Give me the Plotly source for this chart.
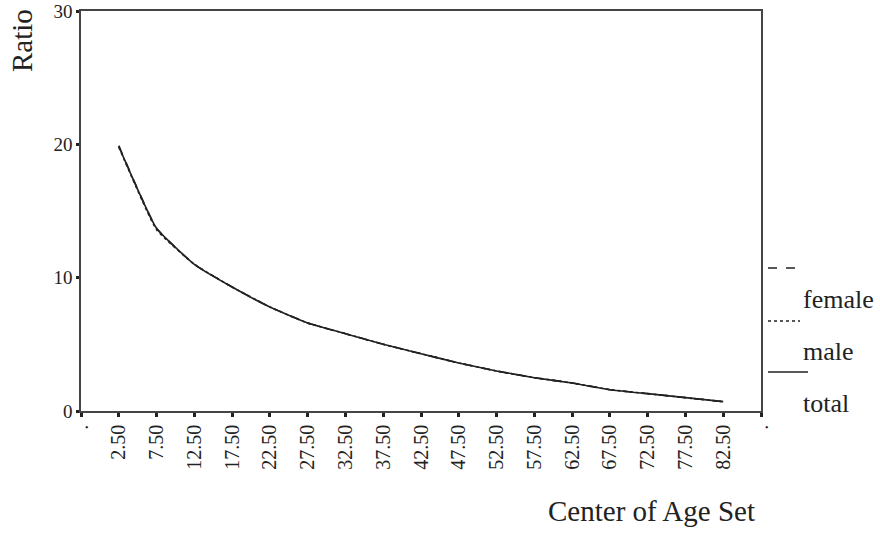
import plotly.graph_objects as go

# Age-set centers and ratio values per group
age_centers = [2.5, 7.5, 12.5, 17.5, 22.5, 27.5, 32.5, 37.5, 42.5,
               47.5, 52.5, 57.5, 62.5, 67.5, 72.5, 77.5, 82.5]
tick_labels = ["2.50", "7.50", "12.50", "17.50", "22.50", "27.50", "32.50", "37.50",
               "42.50", "47.50", "52.50", "57.50", "62.50", "67.50", "72.50", "77.50", "82.50"]
female = [19.9, 13.7, 11.0, 9.3, 7.8, 6.6, 5.8, 5.0, 4.3, 3.6, 3.0, 2.5, 2.1, 1.6, 1.3, 1.0, 0.7]
male = [19.8, 13.6, 11.0, 9.3, 7.8, 6.6, 5.8, 5.0, 4.3, 3.6, 3.0, 2.5, 2.1, 1.6, 1.3, 1.0, 0.7]
total = [19.85, 13.7, 11.0, 9.3, 7.8, 6.6, 5.8, 5.0, 4.3, 3.6, 3.0, 2.5, 2.1, 1.6, 1.3, 1.0, 0.7]

series = [("female", female, "dash"), ("male", male, "dot"), ("total", total, "solid")]

FONT = "Liberation Serif"
INK = "#222222"
AXIS = "#444444"

fig = go.Figure()
for name, vals, dash in series:
    fig.add_trace(go.Scatter(x=age_centers, y=vals, mode="lines", name=name,
                             line=dict(color=INK, width=1.6, dash=dash, shape="spline",
                                       smoothing=0.4),
                             showlegend=False))

# plot area in pixels: x 81..761, y 11..411
L, R, T, B = 81, 761, 11, 411
W, H = R - L, B - T

def px(x):
    return (x - L) / W

def py(y):
    return (B - y) / H

xticks = [-2.5] + age_centers + [87.5]
xtext = ["."] + tick_labels + ["."]

fig.update_layout(
    width=880, height=535,
    margin=dict(l=L, r=880 - R, t=T, b=535 - B, autoexpand=False),
    paper_bgcolor="white", plot_bgcolor="white",
    font=dict(family=FONT, color=INK),
    xaxis=dict(range=[-2.5, 87.5], tickmode="array", tickvals=xticks, ticktext=xtext,
               tickangle=-90, tickfont=dict(size=20, family=FONT, color=INK),
               ticks="outside", ticklen=4, tickwidth=3, tickcolor=INK,
               ticklabeloverflow="allow", automargin=False,
               showline=True, linecolor=AXIS, linewidth=1.5, mirror=True,
               showgrid=False, zeroline=False),
    yaxis=dict(range=[0, 30], tickmode="array", tickvals=[0, 10, 20, 30],
               ticktext=["0", "10", "20", "30"],
               tickfont=dict(size=19, family=FONT, color=INK),
               ticks="outside", ticklen=3, tickwidth=3, tickcolor=INK,
               ticklabeloverflow="allow", automargin=False,
               showline=True, linecolor=AXIS, linewidth=1.5, mirror=True,
               showgrid=False, zeroline=False),
)

# axis titles
fig.add_annotation(text="Ratio", xref="paper", yref="paper",
                   x=px(22), y=py(41), textangle=-90, showarrow=False,
                   font=dict(size=29, family=FONT, color=INK),
                   xanchor="center", yanchor="middle")
fig.add_annotation(text="Center of Age Set", xref="paper", yref="paper",
                   x=px(651), y=py(511), showarrow=False,
                   font=dict(size=29, family=FONT, color=INK),
                   xanchor="center", yanchor="middle")

# legend: line sample above each label
legend_items = [("female", "dash", 268, 300, 800),
                ("male", "dot", 321, 351, 800),
                ("total", "solid", 372, 403, 808)]
for label, dash, ly, ty, x1 in legend_items:
    fig.add_shape(type="line", xref="paper", yref="paper",
                  x0=px(768), x1=px(x1), y0=py(ly), y1=py(ly),
                  line=dict(color=INK, width=1.3, dash=dash))
    fig.add_annotation(text=label, xref="paper", yref="paper",
                       x=px(801), y=py(ty), showarrow=False,
                       font=dict(size=26, family=FONT, color=INK),
                       xanchor="left", yanchor="middle")

fig.write_html("out.html")
